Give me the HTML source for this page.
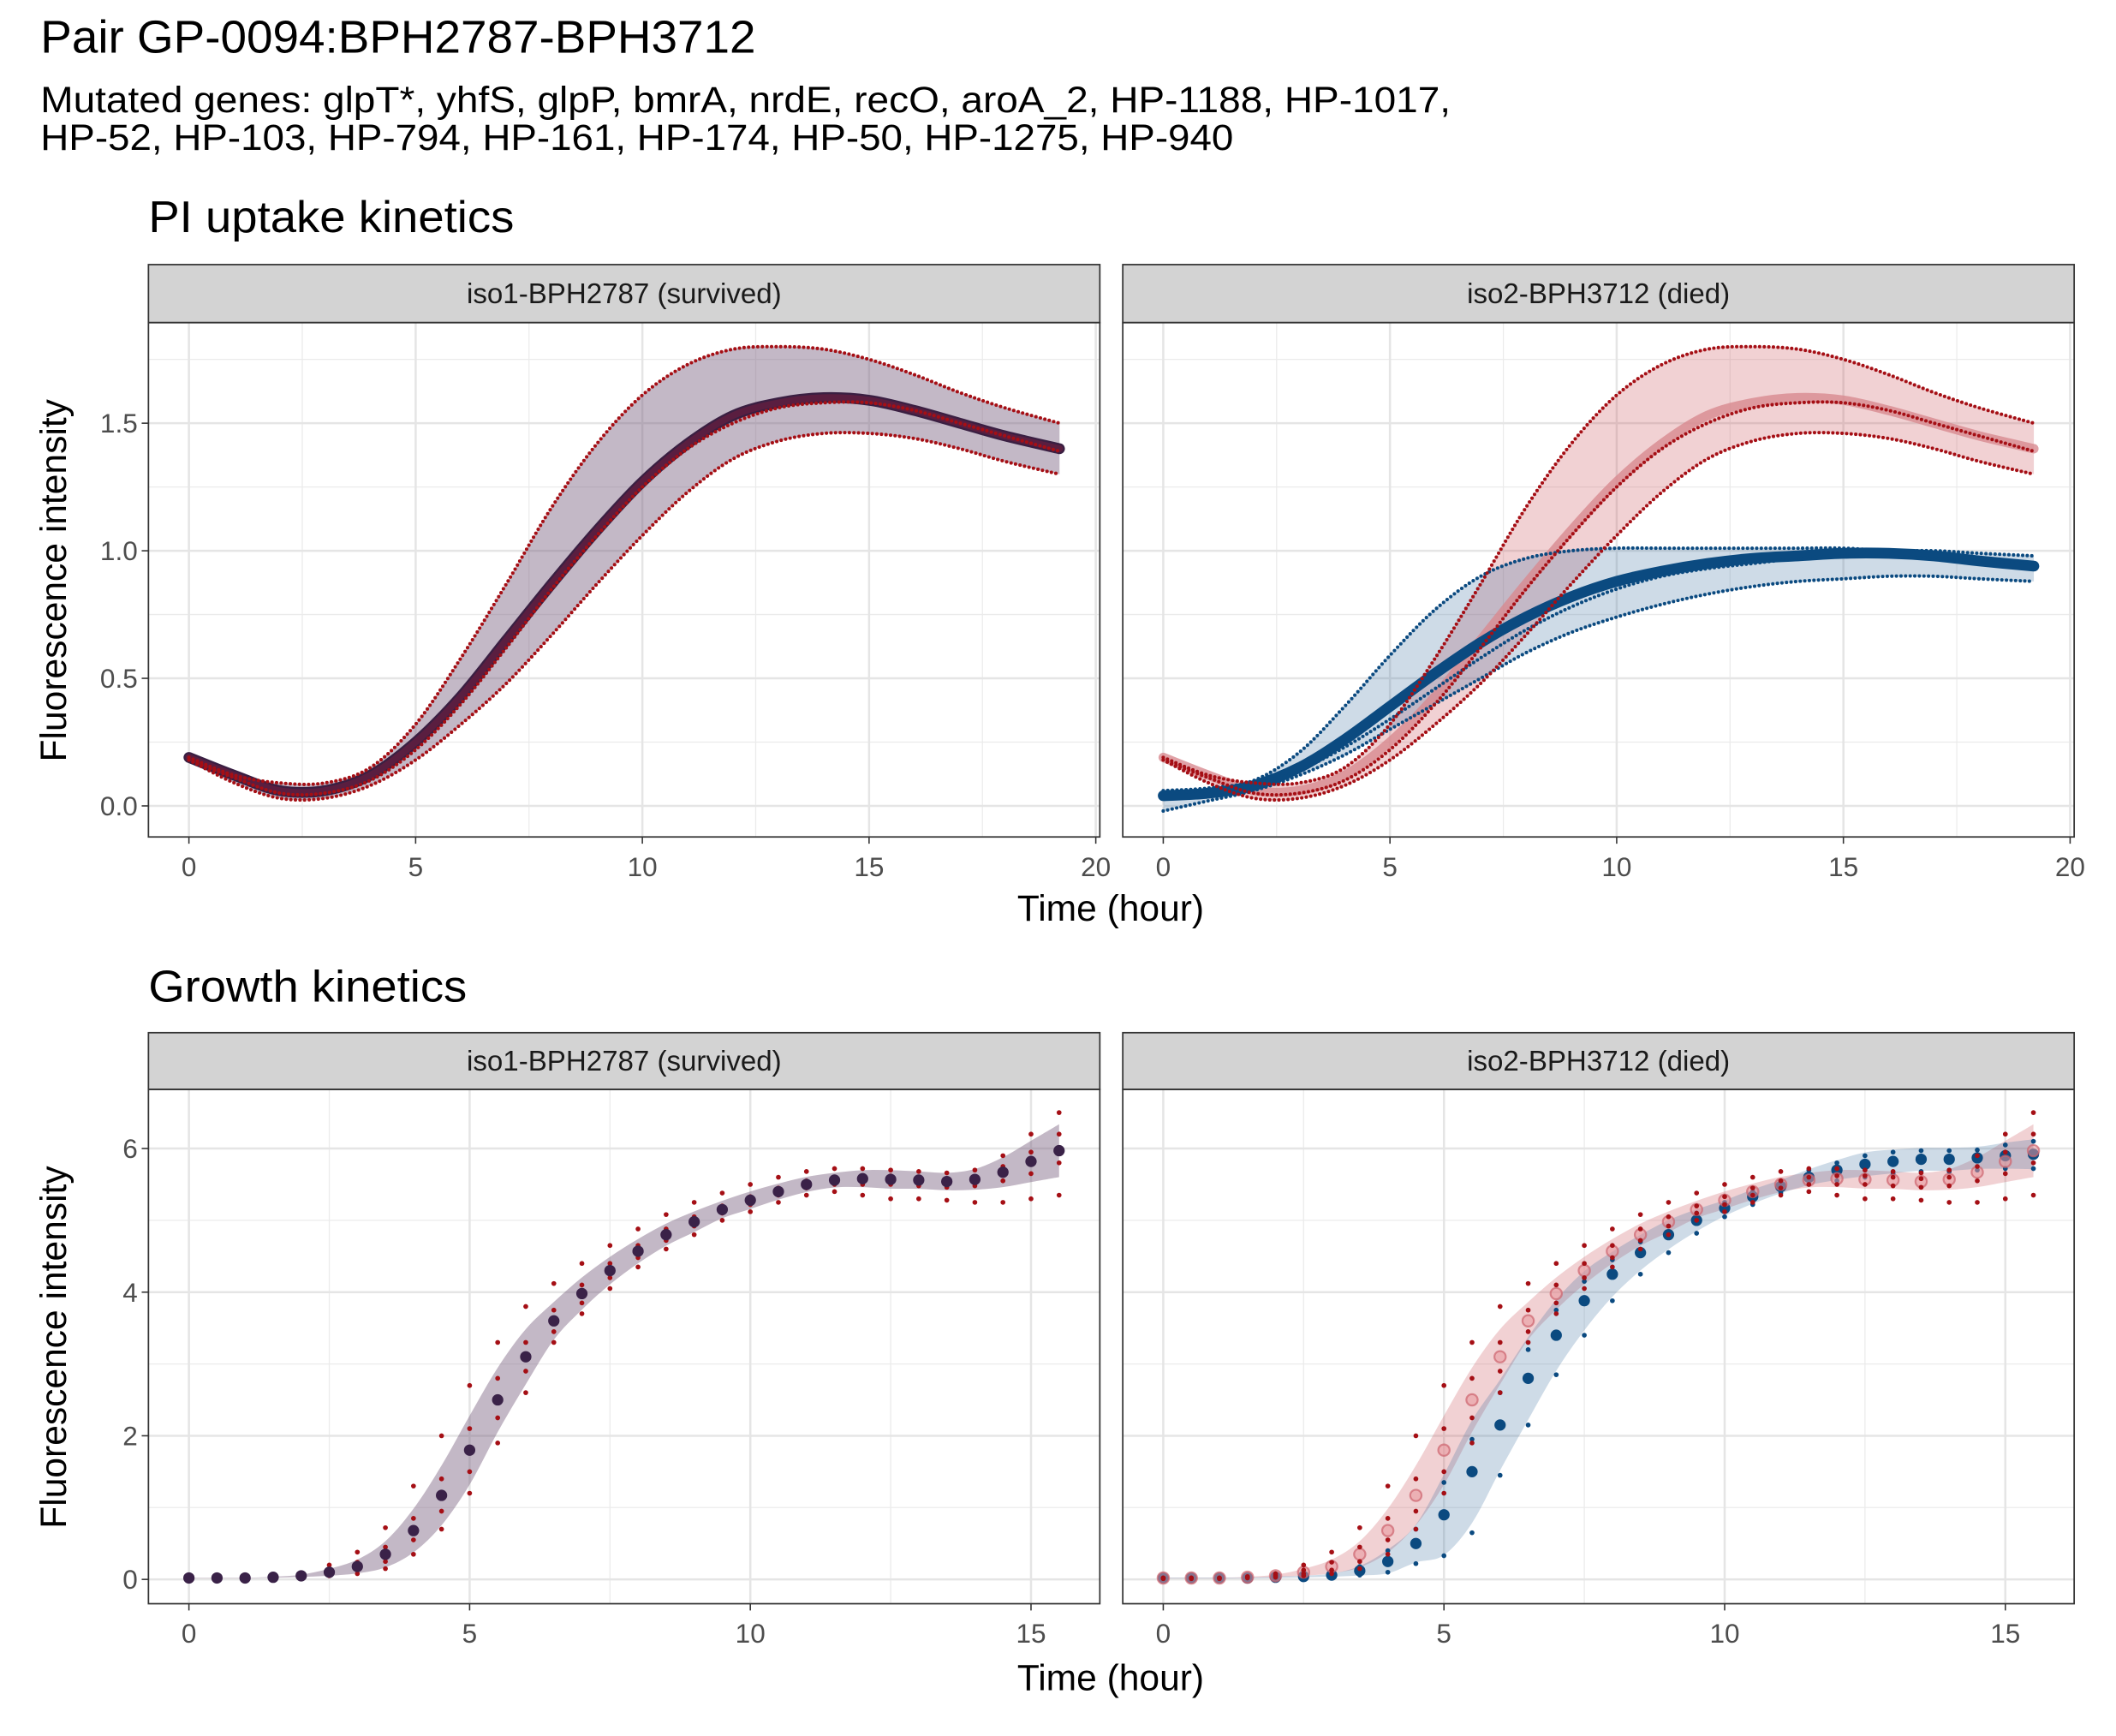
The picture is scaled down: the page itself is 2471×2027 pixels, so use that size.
<!DOCTYPE html>
<html><head><meta charset="utf-8"><style>
html,body{margin:0;padding:0;background:#fff}
svg{display:block}
text{font-family:"Liberation Sans",Arial,sans-serif}
</style></head><body>
<svg id="chart" width="2471" height="2027" viewBox="0 0 1568 1286" preserveAspectRatio="none" xmlns="http://www.w3.org/2000/svg">
<rect width="1568" height="1286" fill="#fff"/>
<text x="30" y="39" font-size="34" fill="#000" textLength="530" lengthAdjust="spacingAndGlyphs">Pair GP-0094:BPH2787-BPH3712</text>
<text x="30" y="83" font-size="27" fill="#000" textLength="1045" lengthAdjust="spacingAndGlyphs">Mutated genes: glpT*, yhfS, glpP, bmrA, nrdE, recO, aroA_2, HP-1188, HP-1017,</text>
<text x="30" y="111" font-size="27" fill="#000" textLength="884" lengthAdjust="spacingAndGlyphs">HP-52, HP-103, HP-794, HP-161, HP-174, HP-50, HP-1275, HP-940</text>
<text x="110" y="172" font-size="33" fill="#000" textLength="271" lengthAdjust="spacingAndGlyphs">PI uptake kinetics</text>
<text x="110" y="742" font-size="33" fill="#000" textLength="236" lengthAdjust="spacingAndGlyphs">Growth kinetics</text>
<g id="layer"></g>
</svg>
<script>
// ---------- PI uptake data ----------
const piTimes = [0,1,2,3,4,5,6,7,8,9,10,11,12,13,14,15,16,17,18,19.2];
const piRedMean = [0.19,0.12,0.06,0.06,0.12,0.25,0.43,0.65,0.87,1.08,1.27,1.42,1.53,1.58,1.60,1.59,1.55,1.50,1.45,1.40];
const piRedHi   = [0.19,0.12,0.09,0.09,0.15,0.32,0.58,0.87,1.17,1.42,1.61,1.73,1.79,1.80,1.79,1.75,1.69,1.62,1.56,1.50];
const piRedMid  = [0.18,0.11,0.05,0.05,0.10,0.22,0.40,0.62,0.85,1.06,1.25,1.40,1.50,1.56,1.58,1.58,1.55,1.50,1.45,1.39];
const piRedLo   = [0.18,0.09,0.03,0.03,0.08,0.18,0.32,0.48,0.67,0.87,1.06,1.23,1.36,1.43,1.46,1.46,1.44,1.40,1.35,1.30];
const piBlueMean= [0.04,0.05,0.08,0.15,0.26,0.39,0.52,0.64,0.74,0.82,0.88,0.92,0.95,0.97,0.98,0.99,0.99,0.98,0.96,0.94];
const piBlueHi  = [0.06,0.07,0.10,0.21,0.39,0.59,0.77,0.90,0.97,1.00,1.01,1.01,1.01,1.01,1.01,1.01,1.00,1.00,0.99,0.98];
const piBlueMid = [0.05,0.06,0.08,0.14,0.23,0.34,0.46,0.58,0.69,0.78,0.85,0.90,0.93,0.95,0.97,0.98,0.98,0.97,0.96,0.95];
const piBlueLo  = [-0.02,0.02,0.06,0.12,0.20,0.30,0.40,0.50,0.60,0.68,0.74,0.79,0.83,0.86,0.88,0.89,0.90,0.90,0.89,0.88];
const piYTicks = [0,0.5,1.0,1.5];
const piYLabels = ["0.0","0.5","1.0","1.5"];
const piXTicks = [0,5,10,15,20];

// ---------- Growth data ----------
const grTimes = [0,0.5,1,1.5,2,2.5,3,3.5,4,4.5,5,5.5,6,6.5,7,7.5,8,8.5,9,9.5,10,10.5,11,11.5,12,12.5,13,13.5,14,14.5,15,15.5];
const grRedMean = [0.02,0.02,0.02,0.03,0.05,0.10,0.18,0.35,0.68,1.17,1.80,2.50,3.10,3.60,3.98,4.30,4.57,4.80,4.98,5.15,5.28,5.40,5.50,5.56,5.58,5.57,5.56,5.54,5.57,5.67,5.82,5.97];
const grRedRep1 = [0.02,0.02,0.02,0.04,0.08,0.20,0.38,0.72,1.30,2.00,2.70,3.30,3.80,4.12,4.40,4.65,4.88,5.08,5.25,5.38,5.50,5.60,5.68,5.72,5.72,5.70,5.68,5.66,5.70,5.90,6.20,6.50];
const grRedRep2 = [0.02,0.02,0.02,0.03,0.06,0.13,0.24,0.45,0.85,1.40,2.10,2.80,3.30,3.75,4.10,4.40,4.65,4.88,5.05,5.20,5.33,5.45,5.55,5.60,5.62,5.62,5.60,5.58,5.60,5.75,5.95,6.20];
const grRedRep3 = [0.02,0.02,0.02,0.03,0.04,0.08,0.13,0.25,0.55,0.95,1.50,2.25,2.90,3.45,3.85,4.20,4.48,4.72,4.92,5.10,5.22,5.35,5.45,5.50,5.50,5.50,5.48,5.46,5.48,5.55,5.65,5.80];
const grRedRep4 = [0.01,0.01,0.01,0.02,0.03,0.05,0.08,0.15,0.35,0.70,1.20,1.90,2.60,3.30,3.70,4.05,4.35,4.60,4.80,5.00,5.12,5.25,5.35,5.40,5.35,5.30,5.30,5.28,5.25,5.25,5.30,5.35];
const grBlueMean= [0.02,0.02,0.02,0.02,0.03,0.04,0.06,0.12,0.25,0.50,0.90,1.50,2.15,2.80,3.40,3.88,4.25,4.55,4.80,5.00,5.17,5.33,5.47,5.60,5.70,5.78,5.82,5.85,5.85,5.87,5.90,5.92];
const grBlueHi  = [0.02,0.02,0.02,0.03,0.04,0.05,0.08,0.18,0.40,0.70,1.35,1.95,2.60,3.20,3.75,4.15,4.45,4.70,4.92,5.10,5.25,5.40,5.55,5.70,5.80,5.90,5.95,5.97,5.97,5.98,6.05,6.10];
const grBlueLo  = [0.01,0.01,0.01,0.02,0.02,0.03,0.04,0.06,0.10,0.22,0.33,0.65,1.45,2.15,2.85,3.40,3.88,4.25,4.55,4.82,5.05,5.22,5.38,5.50,5.55,5.60,5.65,5.68,5.68,5.70,5.72,5.72];
const grYTicks = [0,2,4,6];
const grXTicks = [0,5,10,15];

const RED="#a50f15", BLUE="#0b4a80";
const NS="http://www.w3.org/2000/svg";
const layer=document.getElementById('layer');
function mk(tag,attrs,parent){const e=document.createElementNS(NS,tag);for(const k in attrs)e.setAttribute(k,attrs[k]);(parent||layer).appendChild(e);return e;}

function smoothPath(xs,ys){
  let d="M"+xs[0]+","+ys[0];
  for(let i=0;i<xs.length-1;i++){
    const x0=xs[Math.max(i-1,0)],y0=ys[Math.max(i-1,0)],x1=xs[i],y1=ys[i],x2=xs[i+1],y2=ys[i+1],x3=xs[Math.min(i+2,xs.length-1)],y3=ys[Math.min(i+2,xs.length-1)];
    d+=" C"+(x1+(x2-x0)/6)+","+(y1+(y2-y0)/6)+" "+(x2-(x3-x1)/6)+","+(y2-(y3-y1)/6)+" "+x2+","+y2;
  }
  return d;
}

function panelFrame(px0,px1,stripY0,py0,py1,label,name,xs,ys,xMinor,yMinor,xTicks,yTicks,yLabels,showY){
  const g=mk('g',{});
  
  
  mk('rect',{x:px0,y:py0,width:px1-px0,height:py1-py0,fill:'#fff'},g);
  yMinor.forEach(v=>{const l=mk('line',{x1:px0,x2:px1,y1:ys(v),y2:ys(v),stroke:'#ebebeb','stroke-width':0.8},g);});
  xMinor.forEach(v=>{const l=mk('line',{x1:xs(v),x2:xs(v),y1:py0,y2:py1,stroke:'#ebebeb','stroke-width':0.8},g);});
  yTicks.forEach((v,i)=>{
    const l=mk('line',{x1:px0,x2:px1,y1:ys(v),y2:ys(v),stroke:'#e5e5e5','stroke-width':1.6},g);
    
    if(showY){
      mk('line',{x1:px0-5,x2:px0,y1:ys(v),y2:ys(v),stroke:'#333','stroke-width':1},g);
      const t=mk('text',{x:px0-8,y:ys(v)+7,'font-size':20,fill:'#4d4d4d','text-anchor':'end'},g);
      t.textContent=yLabels[i];
      
    }
  });
  xTicks.forEach(v=>{
    const l=mk('line',{x1:xs(v),x2:xs(v),y1:py0,y2:py1,stroke:'#e5e5e5','stroke-width':1.6},g);
    
    mk('line',{x1:xs(v),x2:xs(v),y1:py1,y2:py1+5,stroke:'#333','stroke-width':1},g);
    const t=mk('text',{x:xs(v),y:py1+29,'font-size':20,fill:'#4d4d4d','text-anchor':'middle'},g);
    t.textContent=String(v);
    
  });
  const s=mk('rect',{x:px0,y:stripY0,width:px1-px0,height:py0-stripY0,fill:'#d3d3d3',stroke:'#333','stroke-width':1.1},g);
  
  const st=mk('text',{x:(px0+px1)/2,y:(stripY0+py0)/2+7,'font-size':21,fill:'#1a1a1a','text-anchor':'middle'},g);
  st.textContent=label;
  
  const plot=mk('g',{},g);
  return {g,plot,finish:()=>{const b=mk('rect',{x:px0,y:py0,width:px1-px0,height:py1-py0,fill:'none',stroke:'#333','stroke-width':1.1},g);}};
}

function ribbon(parent,xs,ys,t,lo,hi,fill,name){
  const X=t.map(xs),YL=lo.map(ys),YH=hi.map(ys);
  let d=smoothPath(X,YH);
  const rx=X.slice().reverse(),ry=YL.slice().reverse();
  d+=" L"+rx[0]+","+ry[0]+smoothPath(rx,ry).replace(/^M[^C]*/,' ');
  const p=mk('path',{d:d+"Z",fill:fill,stroke:'none'},parent);
  
}
function dotLine(parent,xs,ys,t,v,color,w,gap,name,opacity){
  const p=mk('path',{d:smoothPath(t.map(xs),v.map(ys)),fill:'none',stroke:color,'stroke-width':w,'stroke-linecap':'round','stroke-dasharray':gap?('0 '+gap):'none','stroke-opacity':opacity||1},parent);
  
}

// ---------- PI panels ----------
const piY0=239,piY1=620;
function piYs(v){return 597-v*189;}
[[110,815,140,"iso1-BPH2787 (survived)","pi-panel-survived",piRedMean,piRedHi,piRedMid,piRedLo,true],
 [832,1537,862,"iso2-BPH3712 (died)","pi-panel-died",piBlueMean,piBlueHi,piBlueMid,piBlueLo,false]].forEach((cfg,idx)=>{
  const [px0,px1,x0,label,name,bMean,bHi,bMid,bLo,showY]=cfg;
  const xs=v=>x0+v*33.6;
  const P=panelFrame(px0,px1,196,piY0,piY1,label,name,xs,piYs,[2.5,7.5,12.5,17.5],[0.25,0.75,1.25,1.75],piXTicks,piYTicks,piYLabels,showY);
  const pl=P.plot;
  ribbon(pl,xs,piYs,piTimes,piRedLo,piRedHi,'rgba(200,70,80,0.25)','red-ribbon');
  ribbon(pl,xs,piYs,piTimes,bLo,bHi,'rgba(60,110,160,0.25)','blue-ribbon');
  if(idx===0){
    dotLine(pl,xs,piYs,piTimes,bMean,'#3a1f42',8,0,'mean-curve-overlap');
    dotLine(pl,xs,piYs,piTimes,piRedMean,'#5a1e40',5,0,'mean-curve-red');
  } else {
    dotLine(pl,xs,piYs,piTimes,piRedMean,'#d88a90',7,0,'mean-curve-red',0.8);
    dotLine(pl,xs,piYs,piTimes,bMean,BLUE,8,0,'mean-curve-blue');
    dotLine(pl,xs,piYs,piTimes,bHi,BLUE,2.6,3.4,'replicate-blue-hi');
    dotLine(pl,xs,piYs,piTimes,bMid,BLUE,2.6,3.4,'replicate-blue-mid');
    dotLine(pl,xs,piYs,piTimes,bLo,BLUE,2.6,3.4,'replicate-blue-lo');
  }
  dotLine(pl,xs,piYs,piTimes,piRedHi,RED,2.6,3.4,'replicate-red-hi');
  dotLine(pl,xs,piYs,piTimes,piRedMid,RED,2.6,3.4,'replicate-red-mid');
  dotLine(pl,xs,piYs,piTimes,piRedLo,RED,2.6,3.4,'replicate-red-lo');
  P.finish();
});

// ---------- Growth panels ----------
const grY0=807,grY1=1188;
function grYs(v){return 1170-v*53.2;}
function dots(parent,xs,ys,t,v,color,r,name,extra){
  t.forEach((tt,i)=>{
    const c=mk('circle',Object.assign({cx:xs(tt),cy:ys(v[i]),r:r,fill:color},extra||{}),parent);
    
  });
}
function ribArr(m,a,b,k){return m.map((v,i)=>v+k*(a[i]-b[i]));}
[[110,815,140,"iso1-BPH2787 (survived)","growth-panel-survived",grRedMean,grRedRep1,grRedRep4,false],
 [832,1537,862,"iso2-BPH3712 (died)","growth-panel-died",grBlueMean,grBlueHi,grBlueLo,true]].forEach(cfg=>{
  const [px0,px1,x0,label,name,bMean,bHi,bLo,diff]=cfg;
  const xs=v=>x0+v*41.6;
  const P=panelFrame(px0,px1,765,grY0,grY1,label,name,xs,grYs,[2.5,7.5,12.5],[1,3,5],grXTicks,grYTicks,grYTicks.map(String),!diff);
  const pl=P.plot;
  const rLo=ribArr(grRedMean,grRedRep4,grRedRep1,0.32), rHi=ribArr(grRedMean,grRedRep1,grRedRep4,0.32);
  ribbon(pl,xs,grYs,grTimes,rLo,rHi,'rgba(200,70,80,0.25)','red-ribbon');
  const bL=ribArr(bMean,bLo,bHi,0.55), bH=ribArr(bMean,bHi,bLo,0.55);
  ribbon(pl,xs,grYs,grTimes,diff?bL:rLo,diff?bH:rHi,'rgba(60,110,160,0.25)','blue-ribbon');
  if(!diff){
    dots(pl,xs,grYs,grTimes,grRedRep1,RED,1.8,'replicate-dot-red');
    dots(pl,xs,grYs,grTimes,grRedRep2,RED,1.8,'replicate-dot-red');
    dots(pl,xs,grYs,grTimes,grRedRep3,RED,1.8,'replicate-dot-red');
    dots(pl,xs,grYs,grTimes,grRedRep4,RED,1.8,'replicate-dot-red');
    dots(pl,xs,grYs,grTimes,grRedMean,'#3a2248',4.2,'mean-point-overlap');
  } else {
    dots(pl,xs,grYs,grTimes,bHi,BLUE,1.8,'replicate-dot-blue');
    dots(pl,xs,grYs,grTimes,bLo,BLUE,1.8,'replicate-dot-blue');
    dots(pl,xs,grYs,grTimes,bMean,BLUE,4.2,'mean-point-blue');
    dots(pl,xs,grYs,grTimes,grRedMean,'rgba(232,150,155,0.55)',4.2,'mean-point-red',{stroke:'rgba(205,100,110,0.7)','stroke-width':1.4});
    dots(pl,xs,grYs,grTimes,grRedRep1,RED,1.8,'replicate-dot-red');
    dots(pl,xs,grYs,grTimes,grRedRep2,RED,1.8,'replicate-dot-red');
    dots(pl,xs,grYs,grTimes,grRedRep3,RED,1.8,'replicate-dot-red');
    dots(pl,xs,grYs,grTimes,grRedRep4,RED,1.8,'replicate-dot-red');
  }
  P.finish();
});

// axis titles
function txt(x,y,s,size,name,rot){const t=mk('text',{x:x,y:y,'font-size':size,fill:'#000','text-anchor':'middle'});if(rot)t.setAttribute('transform','rotate(-90 '+x+' '+y+')');t.textContent=s;}
txt(823,682,"Time (hour)",27,'pi-x-axis-title');
txt(49,430,"Fluorescence intensity",27,'pi-y-axis-title',true);
txt(823,1252,"Time (hour)",27,'growth-x-axis-title');
txt(49,998,"Fluorescence intensity",27,'growth-y-axis-title',true);
</script>
</body></html>
